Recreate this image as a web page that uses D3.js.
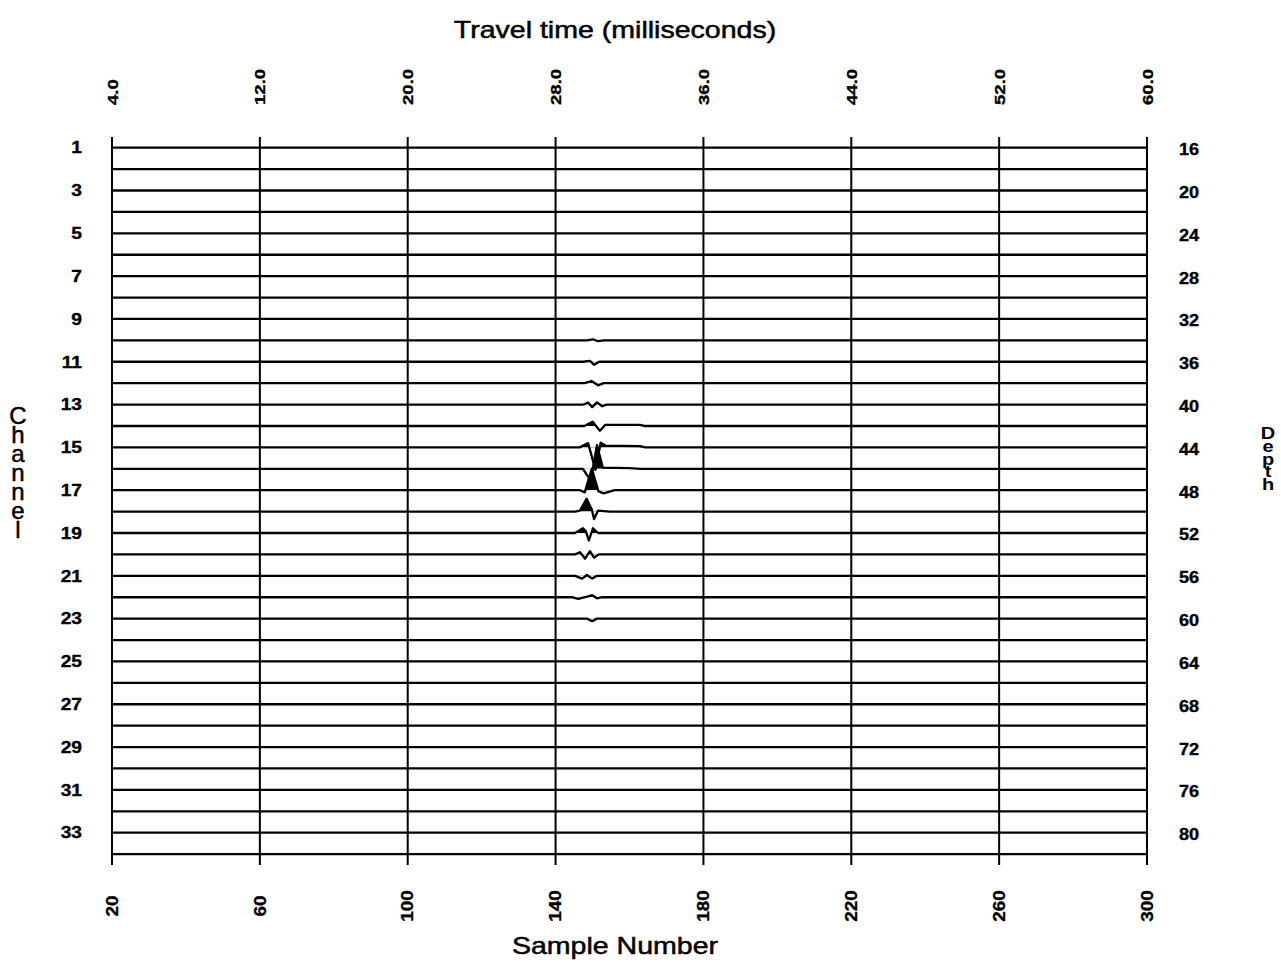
<!DOCTYPE html>
<html>
<head>
<meta charset="utf-8">
<script src="https://cdn.jsdelivr.net/npm/d3@7"></script>
<style>
  html, body { margin: 0; padding: 0; background: #fff; }
  svg { display: block; }
  text { font-family: "Liberation Sans", Arial, Helvetica, sans-serif; fill: #000; }
  .stacked { writing-mode: vertical-rl; text-orientation: upright; }
</style>
</head>
<body>
<svg id="chart" width="1281" height="974"></svg>
<script>
// ---- data -------------------------------------------------------------
// Recording window in samples (0.2 ms per sample, 4 ms at sample 20)
const sampleDomain = [20, 300];
const timeDomain = [4, 60];
const sampleTicks = [20, 60, 100, 140, 180, 220, 260, 300];
const timeTicks = [4, 12, 20, 28, 36, 44, 52, 60];

// Receiver channels and their depths (depth = 14 + 2 * channel)
const channels = d3.range(1, 35);
const channelTicks = [1, 3, 5, 7, 9, 11, 13, 15, 17, 19, 21, 23, 25, 27, 29, 31, 33];
const depthTicks = [16, 20, 24, 28, 32, 36, 40, 44, 48, 52, 56, 60, 64, 68, 72, 76, 80];

// Picked trace amplitudes around the arrival: [sample, amplitude],
// amplitude in units of the trace spacing (positive = up). Traces are
// flat (zero) outside the listed samples.
const eventChannels = [10, 11, 12, 13, 14, 15, 16, 17, 18, 19, 20, 21, 22, 23];
const eventTraces = [
  [[148.5, 0], [150.1, 0.05], [151.5, -0.04], [153.0, 0]],
  [[147.5, 0], [149.3, 0.04], [150.4, -0.14], [151.8, 0]],
  [[147.8, 0], [149.7, 0.10], [151.5, -0.10], [153.0, 0]],
  [[147.6, 0], [148.8, 0.10], [149.9, -0.12], [151.2, 0.10], [152.6, -0.08], [153.8, 0]],
  [[147.8, 0], [150.0, 0.20], [152.0, -0.22], [153.4, 0.05], [162.8, 0.05], [164.0, 0]],
  [[146.5, 0], [148.8, 0.20], [150.8, -1.05], [152.2, 0.22], [153.6, 0.08], [162.8, 0.06], [164.2, 0]],
  [[147.4, 0], [149.5, -0.55], [151.2, 1.10], [152.8, 0.05], [160.0, 0.03], [163.0, 0]],
  [[146.6, 0], [147.9, -0.10], [149.8, 1.00], [151.6, -0.05], [153.0, -0.15], [156.0, 0]],
  [[145.3, 0], [146.6, 0.05], [148.4, 0.60], [149.8, 0.10], [150.4, -0.35], [151.5, 0.05], [154.7, 0]],
  [[145.3, 0], [147.4, 0.22], [148.2, 0.08], [149.0, -0.35], [150.1, 0.22], [151.5, 0]],
  [[145.3, 0], [146.6, 0.10], [148.0, -0.20], [149.3, 0.15], [150.4, -0.15], [151.7, 0]],
  [[145.3, 0], [147.2, -0.13], [148.5, 0.04], [149.9, -0.13], [151.2, 0]],
  [[144.4, 0], [146.1, -0.08], [148.0, 0], [149.9, 0.10], [151.2, -0.05], [152.6, 0]],
  [[148.5, 0], [149.9, -0.12], [151.2, 0]]
];

// Axis titles
const topTitle = "Travel time (milliseconds)";
const bottomTitle = "Sample Number";
const leftTitle = "Channel";
const rightTitle = "Depth";

// ---- layout -----------------------------------------------------------
const svg = d3.select("#chart");
const left = 112, right = 1147;
const gridTop = 137, gridBottom = 865;

const x = d3.scaleLinear().domain(sampleDomain).range([left, right]);
const xTime = d3.scaleLinear().domain(timeDomain).range([left, right]);
const y = d3.scaleLinear().domain([1, 34]).range([147.7, 147.7 + 33 * 21.406]);
const spacing = y(2) - y(1);
const depthOf = ch => 14 + 2 * ch;
const y2 = d3.scaleLinear().domain([depthOf(1), depthOf(34)]).range(y.range());

// Full trace for a channel: zero everywhere except the picked samples
function traceFor(ch) {
  const i = eventChannels.indexOf(ch);
  const pts = i >= 0 ? eventTraces[i] : [];
  return [[sampleDomain[0], 0], ...pts, [sampleDomain[1], 0]];
}

// ---- vertical grid (sample ticks) ---------------------------------------
svg.append("g").selectAll("line")
  .data(sampleTicks)
  .join("line")
  .attr("x1", d => x(d)).attr("x2", d => x(d))
  .attr("y1", gridTop).attr("y2", gridBottom)
  .attr("stroke", "#000").attr("stroke-width", 2);

// ---- traces (wiggle + variable area) -----------------------------------
const defs = svg.append("defs");
const traceG = svg.append("g");

channels.forEach(ch => {
  const base = y(ch);
  const data = traceFor(ch);
  const px = d => x(d[0]);
  const py = d => base - d[1] * spacing;

  const clipId = "pos-" + ch;
  defs.append("clipPath").attr("id", clipId)
    .append("rect")
    .attr("x", left).attr("width", right - left)
    .attr("y", base - 3 * spacing).attr("height", 3 * spacing);

  const area = d3.area().x(px).y0(base).y1(py).curve(d3.curveLinear);
  traceG.append("path")
    .attr("d", area(data))
    .attr("fill", "#000")
    .attr("clip-path", `url(#${clipId})`);

  const line = d3.line().x(px).y(py).curve(d3.curveLinear);
  traceG.append("path")
    .attr("d", line(data))
    .attr("fill", "none")
    .attr("stroke", "#000")
    .attr("stroke-width", 2.3)
    .attr("stroke-linejoin", "round");
});

// ---- tick labels --------------------------------------------------------
const labelInk = sel => sel.attr("stroke", "#000").attr("stroke-width", 0.35);

// Top: travel time, rotated
svg.append("g").selectAll("text")
  .data(timeTicks)
  .join("text")
  .attr("transform", d => `translate(${xTime(d)},105) rotate(-90) scale(1.2,1)`)
  .attr("dy", "0.36em")
  .attr("text-anchor", "start")
  .attr("font-size", 15.5)
  .attr("font-weight", "bold")
  .call(labelInk)
  .text(d3.format(".1f"));

// Bottom: sample number, rotated
svg.append("g").selectAll("text")
  .data(sampleTicks)
  .join("text")
  .attr("transform", d => `translate(${x(d)},906) rotate(-90) scale(1.18,1)`)
  .attr("dy", "0.36em")
  .attr("text-anchor", "middle")
  .attr("font-size", 16)
  .attr("font-weight", "bold")
  .call(labelInk)
  .text(d => d);

// Left: channel numbers
svg.append("g").selectAll("text")
  .data(channelTicks)
  .join("text")
  .attr("transform", d => `translate(82,${y(d)}) scale(1.2,1)`)
  .attr("dy", "0.36em")
  .attr("text-anchor", "end")
  .attr("font-size", 16)
  .attr("font-weight", "bold")
  .call(labelInk)
  .text(d => d);

// Right: depth
svg.append("g").selectAll("text")
  .data(depthTicks)
  .join("text")
  .attr("transform", d => `translate(1179,${y2(d) + 1.5}) scale(1.1,1)`)
  .attr("dy", "0.36em")
  .attr("text-anchor", "start")
  .attr("font-size", 16.5)
  .attr("font-weight", "bold")
  .call(labelInk)
  .text(d => d);

// ---- axis titles --------------------------------------------------------
svg.append("text")
  .attr("transform", "translate(615,38) scale(1.19,1)")
  .attr("text-anchor", "middle")
  .attr("font-size", 24)
  .attr("stroke", "#000").attr("stroke-width", 0.5)
  .text(topTitle);

svg.append("text")
  .attr("transform", "translate(615,954) scale(1.19,1)")
  .attr("text-anchor", "middle")
  .attr("font-size", 24)
  .attr("stroke", "#000").attr("stroke-width", 0.5)
  .text(bottomTitle);

// Stacked vertical titles (upright letters in vertical writing mode)
svg.append("text")
  .attr("class", "stacked")
  .attr("x", 18)
  .attr("y", 402)
  .attr("font-size", 24)
  .attr("letter-spacing", -8)
  .attr("stroke", "#000").attr("stroke-width", 0.5)
  .text(leftTitle);

svg.append("text")
  .attr("class", "stacked")
  .attr("transform", "translate(1268,0) scale(1.25,1)")
  .attr("x", 0)
  .attr("y", 425)
  .attr("font-size", 16)
  .attr("font-weight", "bold")
  .attr("letter-spacing", -4.9)
  .text(rightTitle);
</script>
</body>
</html>
